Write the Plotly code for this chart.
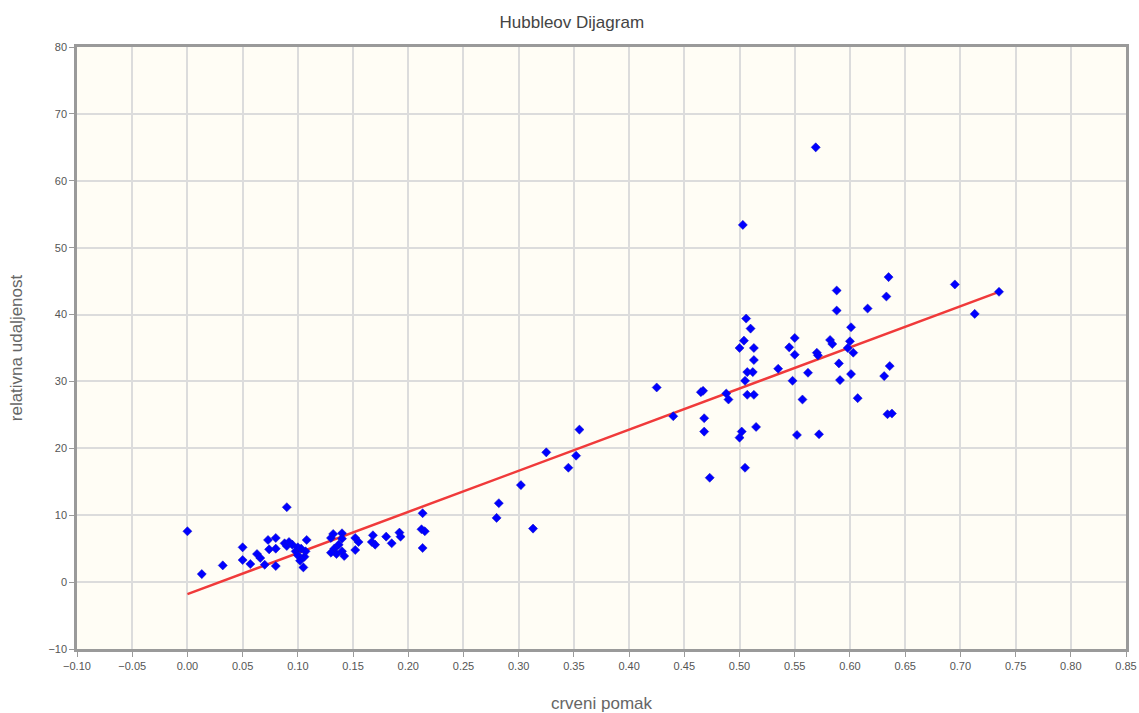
import numpy as np
import plotly.graph_objects as go

# crveni pomak (z) i relativna udaljenost, ocitano sa slike
crveni_pomak = [
    0.000, 0.013, 0.032, 0.050, 0.050, 0.057, 0.063, 0.066, 0.070, 0.073,
    0.074, 0.080, 0.080, 0.080, 0.088, 0.090, 0.090, 0.092, 0.095, 0.098,
    0.100, 0.100, 0.102, 0.103, 0.105, 0.106, 0.107, 0.108, 0.130, 0.132,
    0.133, 0.135, 0.137, 0.140, 0.140, 0.140, 0.142, 0.130, 0.152, 0.155,
    0.152, 0.167, 0.168, 0.170, 0.180, 0.185, 0.192, 0.193, 0.213, 0.212,
    0.213, 0.215,
    0.280, 0.282, 0.302, 0.313, 0.325, 0.345, 0.352, 0.355,
    0.425, 0.440, 0.465, 0.467, 0.468, 0.468, 0.473, 0.488, 0.490, 0.500,
    0.500, 0.502, 0.503, 0.504, 0.505, 0.505, 0.506, 0.507, 0.507, 0.510,
    0.512, 0.513, 0.513, 0.513, 0.515, 0.535, 0.545, 0.548, 0.550, 0.550,
    0.552, 0.557, 0.562, 0.569, 0.570, 0.571, 0.572, 0.582, 0.584, 0.588,
    0.588, 0.590, 0.591, 0.598, 0.600, 0.601, 0.601, 0.603, 0.607, 0.616,
    0.631, 0.633, 0.635, 0.636, 0.634, 0.638, 0.695, 0.713, 0.735,
]
udaljenost = [
    7.6, 1.2, 2.5, 5.2, 3.3, 2.7, 4.2, 3.6, 2.6, 6.3,
    4.9, 6.6, 5.0, 2.4, 5.8, 11.2, 5.4, 6.0, 5.6, 4.6,
    5.2, 4.0, 3.2, 5.0, 2.2, 3.8, 4.6, 6.3, 6.6, 7.2,
    5.0, 4.2, 5.6, 7.3, 6.5, 4.6, 3.9, 4.4, 6.6, 6.0,
    4.8, 6.0, 7.0, 5.6, 6.8, 5.8, 7.4, 6.8, 10.3, 7.9,
    5.1, 7.6,
    9.6, 11.8, 14.5, 8.0, 19.4, 17.1, 18.9, 22.8,
    29.1, 24.8, 28.4, 28.6, 24.5, 22.5, 15.6, 28.2, 27.3, 21.6,
    35.0, 22.5, 53.4, 36.1, 30.1, 17.1, 39.4, 31.4, 28.0, 37.9,
    31.4, 35.0, 33.2, 28.0, 23.2, 31.9, 35.1, 30.1, 36.5, 34.0,
    22.0, 27.3, 31.3, 65.0, 34.3, 33.9, 22.1, 36.2, 35.6, 43.6,
    40.6, 32.7, 30.2, 35.0, 36.0, 38.1, 31.1, 34.3, 27.5, 40.9,
    30.8, 42.7, 45.6, 32.3, 25.1, 25.2, 44.5, 40.1, 43.4,
]

# pravac (nagib, odsjecak) ocitan sa slike
nagib = 61.5
odsjecak = -1.8

x_linija = np.array([min(crveni_pomak), max(crveni_pomak)])
y_linija = odsjecak + nagib * x_linija

FONT = "Liberation Sans"

fig = go.Figure()

# crveni pravac
fig.add_trace(go.Scatter(
    x=x_linija, y=y_linija, mode="lines",
    line=dict(color="#f03a3a", width=2.5),
    hoverinfo="skip", showlegend=False,
))
# tocke
fig.add_trace(go.Scatter(
    x=crveni_pomak, y=udaljenost, mode="markers",
    marker=dict(color="#0000ff", size=7, symbol="diamond",
                line=dict(color="#1010c0", width=0.5)),
    showlegend=False,
))

osi = dict(
    showgrid=True, gridcolor="#dcdcdc", gridwidth=1.5,
    zeroline=False, automargin=False,
    showline=True, linecolor="#9a9a9a", linewidth=2.5, mirror=True,
    ticks="outside", ticklen=5, tickcolor="#9a9a9a", tickwidth=1,
    tickfont=dict(family=FONT, size=11, color="#555"),
    ticklabeloverflow="allow",
)

fig.update_xaxes(
    range=[-0.10, 0.85], dtick=0.05, tick0=0, tickformat=".2f",
    title=dict(text="crveni pomak", font=dict(family=FONT, size=17, color="#666"),
               standoff=27),
    **osi,
)
fig.update_yaxes(
    range=[-10, 80], dtick=10,
    title=dict(text="relativna udaljenost", font=dict(family=FONT, size=17, color="#666"),
               standoff=22),
    **osi,
)

fig.update_layout(
    width=1139, height=713,
    title=dict(text="Hubbleov Dijagram", x=0.502, y=0.969, xanchor="center",
               yanchor="middle",
               font=dict(family=FONT, size=17, color="#444")),
    plot_bgcolor="#fffdf5",
    paper_bgcolor="white",
    margin=dict(l=77, r=13, t=47, b=64),
)

# bez margine stranice, da slika stane u prozor
fig.write_html("out.html",
               config={"displayModeBar": False},
               post_script="document.body.style.margin='0';document.body.style.overflow='hidden';")
